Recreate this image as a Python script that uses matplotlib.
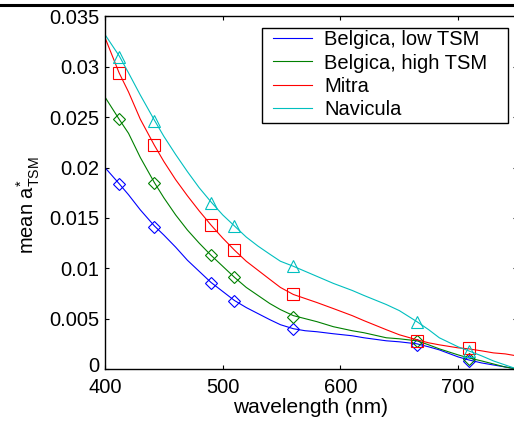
import matplotlib
matplotlib.use('Agg')
import matplotlib.pyplot as plt
from matplotlib.lines import Line2D
from matplotlib.patches import Rectangle
from matplotlib.transforms import ScaledTranslation

plt.rcParams['font.family'] = ['Liberation Sans', 'DejaVu Sans']
plt.rcParams['mathtext.fontset'] = 'custom'
plt.rcParams['mathtext.rm'] = 'Liberation Sans'
plt.rcParams['mathtext.it'] = 'Liberation Sans'

# wavelengths for the spectra (nm)
wl = [400, 412, 420, 430, 442, 450, 460, 470, 480, 490, 500, 510, 520, 530,
      540, 549, 560, 570, 580, 594, 610, 620, 639, 650, 665, 675, 684, 700,
      709, 720, 730, 740, 750]

belgica_low = [0.0200, 0.0184, 0.0173, 0.0158, 0.0142, 0.0133, 0.0121, 0.0108,
               0.0097, 0.0086, 0.0077, 0.0068, 0.0061, 0.0055, 0.0049, 0.0044,
               0.0040, 0.0038, 0.0037, 0.0035, 0.0033, 0.0031, 0.0028, 0.0027,
               0.0025, 0.0022, 0.0019, 0.0012, 0.0009, 0.0006, 0.0004, 0.0002,
               0.0000]
belgica_high = [0.0270, 0.0248, 0.0234, 0.0210, 0.0185, 0.0170, 0.0153, 0.0138,
                0.0125, 0.0113, 0.0102, 0.0091, 0.0081, 0.0073, 0.0065, 0.0059,
                0.0053, 0.0050, 0.0047, 0.0042, 0.0038, 0.0036, 0.0031, 0.0030,
                0.0028, 0.0024, 0.0020, 0.0014, 0.0011, 0.0008, 0.0005, 0.0002,
                0.0000]
mitra = [0.0329, 0.0294, 0.0275, 0.0248, 0.0222, 0.0206, 0.0188, 0.0172,
         0.0157, 0.0143, 0.0130, 0.0118, 0.0107, 0.0098, 0.0089, 0.0081,
         0.0074, 0.0070, 0.0066, 0.0060, 0.0053, 0.0048, 0.0039, 0.0034,
         0.0029, 0.0026, 0.0024, 0.0021, 0.0020, 0.0018, 0.0016, 0.0015,
         0.0013]
navicula = [0.0332, 0.0311, 0.0294, 0.0272, 0.0247, 0.0231, 0.0213, 0.0196,
            0.0180, 0.0166, 0.0153, 0.0142, 0.0131, 0.0122, 0.0114, 0.0107,
            0.0102, 0.0097, 0.0092, 0.0085, 0.0078, 0.0073, 0.0064, 0.0058,
            0.0047, 0.0039, 0.0031, 0.0022, 0.0018, 0.0013, 0.0008, 0.0004,
            0.0000]

# band values (markers)
bands = [412, 442, 490, 510, 560, 665, 709]
belgica_low_b = [0.0184, 0.0141, 0.0085, 0.0068, 0.0040, 0.0024, 0.0008]
belgica_high_b = [0.0248, 0.0185, 0.0113, 0.0091, 0.0052, 0.0028, 0.0010]
mitra_b = [0.0294, 0.0222, 0.0143, 0.0118, 0.0074, 0.0028, 0.0021]
navicula_b = [0.0310, 0.0246, 0.0165, 0.0142, 0.0102, 0.0047, 0.0018]

labels = ['Belgica, low TSM', 'Belgica, high TSM', 'Mitra', 'Navicula']
colors = ['#0000ff', '#008000', '#ff0000', '#00bfbf']
markers = ['D', 'D', 's', '^']
msizes = [6, 6, 8, 9]

W, H = 514, 423
fig = plt.figure(figsize=(W / 100, H / 100), dpi=100)
ax = fig.add_axes([105 / W, (H - 369) / H, (517 - 105) / W, (369 - 16.5) / H])

lines = [belgica_low, belgica_high, mitra, navicula]
marks = [belgica_low_b, belgica_high_b, mitra_b, navicula_b]
for i in range(4):
    ax.plot(wl, lines[i], color=colors[i], lw=0.8, label=labels[i])
    ax.plot(bands, marks[i], linestyle='none', marker=markers[i], ms=msizes[i],
            mfc='none', mec=colors[i], mew=0.8)

ax.set_xlim(400, 750)
ax.set_ylim(0, 0.035)
ax.set_xticks([400, 500, 600, 700])
ax.set_yticks([0, 0.005, 0.01, 0.015, 0.02, 0.025, 0.03, 0.035])
ax.set_yticklabels(['0', '0.005', '0.01', '0.015', '0.02', '0.025', '0.03', '0.035'])
ax.tick_params(direction='in', length=3, width=0.8, top=True, right=True,
               labelsize=14.5)
ax.tick_params(axis='y', pad=4)
ax.tick_params(axis='x', pad=6.5)
for s in ax.spines.values():
    s.set_linewidth(1.0)

# nudge the "0" label up a touch so it does not sit on the "400"
zero = ax.yaxis.get_major_ticks()[0].label1
zero.set_transform(zero.get_transform() + ScaledTranslation(0, 3 / 72, fig.dpi_scale_trans))

ax.set_xlabel('wavelength (nm)', fontsize=15, labelpad=1)
ax.set_ylabel(r'mean a$^{*}_{\rm TSM}$', fontsize=14.5)
ax.yaxis.set_label_coords(-0.152, 0.465)

# legend frame drawn separately (wider side margins, like the original)
fig.add_artist(Rectangle((261.7 / W, 1 - 122.7 / H), (508.3 - 261.7) / W,
                         (122.7 - 28.3) / H, transform=fig.transFigure,
                         facecolor='white', edgecolor='black', lw=1.0, zorder=3))
leg = fig.legend(*ax.get_legend_handles_labels(), loc='upper left',
                 bbox_to_anchor=(272.7 / W, 1 - 30.5 / H), borderaxespad=0,
                 fontsize=14.5, frameon=False, handlelength=1.95,
                 handletextpad=0.62, labelspacing=0.2, borderpad=0)
leg.set_zorder(4)

# thick rule across the top of the image
fig.add_artist(Line2D([0, 1], [1 - 5 / H, 1 - 5 / H], color='black', lw=2.2,
                      transform=fig.transFigure))

fig.savefig('out.png', dpi=100)
